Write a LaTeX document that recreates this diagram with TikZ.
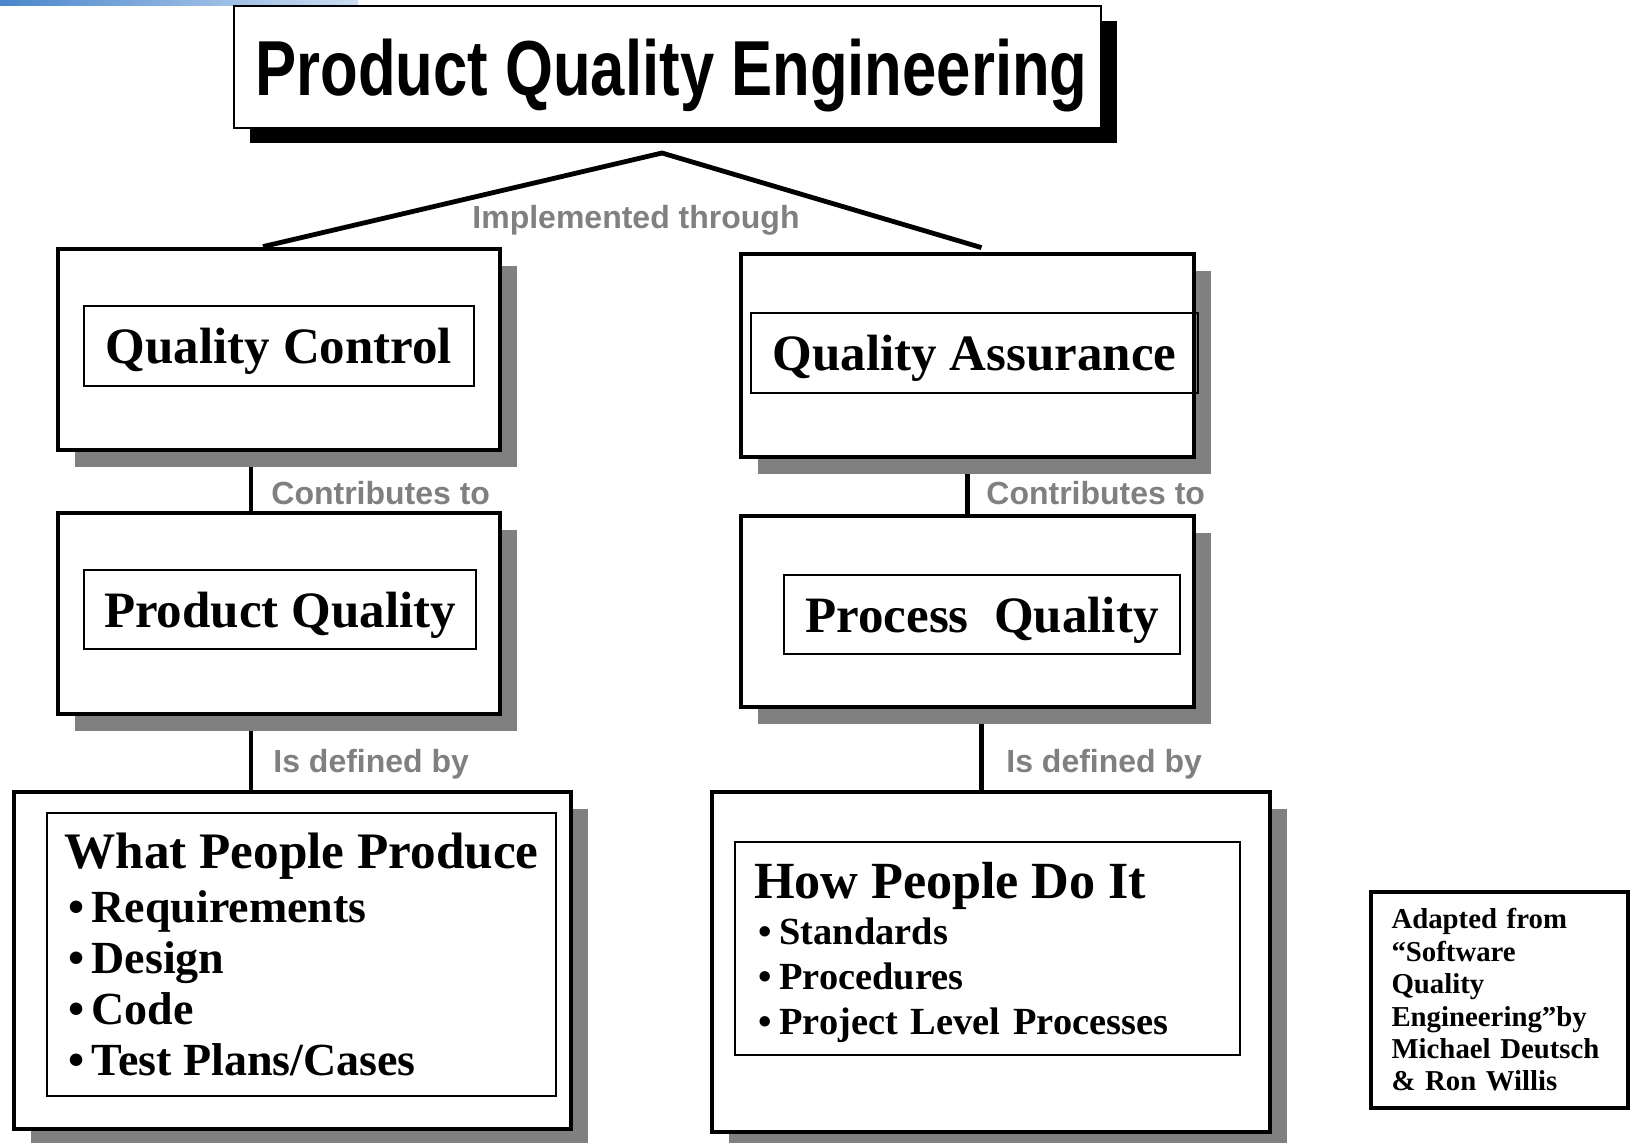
\documentclass[tikz,border=0pt]{standalone}
\usepackage{fontspec}
\setmainfont{Liberation Serif}
\newfontfamily\titlefont{Liberation Sans}[FakeStretch=0.79]
\newfontfamily\labelfont{Liberation Sans}
\usetikzlibrary{shadows,backgrounds}

\definecolor{shadowgray}{RGB}{128,128,128}
\definecolor{labelgray}{RGB}{128,128,128}
\definecolor{barblue}{RGB}{74,134,204}
\definecolor{barlight}{RGB}{205,222,242}

\newcommand{\itembullet}[1]{\leavevmode\kern2pt\textbullet\kern#1}

\tikzset{
    outerbox/.style={draw, line width=2.4pt, fill=white, inner sep=0pt,
        drop shadow={shadow xshift=8.5pt, shadow yshift=-8.5pt, fill=shadowgray, opacity=1}},
    innerbox/.style={draw, line width=1pt, inner sep=0pt, font=\bfseries\fontsize{25.5}{30}\selectfont},
    linklabel/.style={text=labelgray, inner sep=0pt, font=\labelfont\bfseries\fontsize{16}{19}\selectfont},
    link/.style={line width=2.4pt}
}

\begin{document}
\begin{tikzpicture}[x=0.5pt, y=-0.5pt]
    \useasboundingbox (0,0) rectangle (1634,1142);
    \shade[left color=barblue, right color=barlight] (0,0) rectangle (358,5);

    \node[draw, line width=1pt, fill=white, minimum width=433.5pt, minimum height=61pt, text depth=0pt,
        drop shadow={shadow xshift=8pt, shadow yshift=-7.5pt, fill=black, opacity=1},
        font=\titlefont\bfseries\fontsize{39}{45}\selectfont] (pqe) at (667.5,67) {\kern4pt Product Quality Engineering};

    \node[outerbox, minimum width=221pt, minimum height=100.5pt] (qc) at (279,349.5) {};
    \node[innerbox, minimum width=195pt, minimum height=40pt, text depth=0pt] (qcname) at (279,346) {Quality Control};

    \node[outerbox, minimum width=226.5pt, minimum height=101.5pt] (qa) at (967.5,355.5) {};
    \node[innerbox, minimum width=223.5pt, minimum height=40pt, text depth=0pt] (qaname) at (974.5,353) {Quality Assurance};

    \node[outerbox, minimum width=221pt, minimum height=100.5pt] (pq) at (279,613.5) {};
    \node[innerbox, minimum width=196pt, minimum height=39.5pt, text depth=0pt] (pqname) at (280,609.5) {Product Quality};

    \node[outerbox, minimum width=226.5pt, minimum height=95.5pt] (prq) at (967.5,611.5) {};
    \node[innerbox, minimum width=198pt, minimum height=39.5pt, text depth=0pt] (prqname) at (982,614.5) {Process\ \ Quality};

    \node[outerbox, minimum width=278.5pt, minimum height=168.5pt] (wpp) at (292.5,960.5) {};
    \node[innerbox, minimum width=254.5pt, minimum height=141.5pt, align=left,
        font=\bfseries\fontsize{23}{25.5}\selectfont] (wpplist) at (301.5,954.5)
        {{\fontsize{25.6}{30}\selectfont What People Produce}\\[1.5pt]
         \itembullet{3.5pt}Requirements\\
         \itembullet{3.5pt}Design\\
         \itembullet{3.5pt}Code\\
         \itembullet{3.5pt}Test Plans/Cases};

    \node[outerbox, minimum width=279pt, minimum height=170pt] (hpd) at (991,962) {};
    \node[innerbox, text width=233.5pt, inner xsep=9.5pt, minimum height=106.5pt, align=left,
        font=\bfseries\fontsize{19.2}{22.5}\selectfont] (hpdlist) at (987.5,948.5)
        {\rule{0pt}{22.5pt}{\fontsize{26.1}{30}\selectfont How People Do It}\\[0.5pt]
         \itembullet{4pt}Standards\\
         \itembullet{4pt}Procedures\\
         \itembullet{4pt}Project Level Processes};

    \node[draw, line width=2.4pt, text width=108pt, inner xsep=10.25pt, minimum height=108pt, align=left,
        font=\bfseries\fontsize{14.4}{16.2}\selectfont] (credit) at (1499.5,1000)
        {Adapted from\\
         “Software\\
         Quality\\
         Engineering”by\\
         Michael Deutsch\\
         \& Ron Willis};

    \coordinate (apex) at (662,153);
    \node[linklabel, anchor=base] (impl) at (636,228) {Implemented through};
    \node[linklabel, anchor=base west] (qccontrib) at (271,504) {Contributes to};
    \node[linklabel, anchor=base west] (qacontrib) at (986,504) {Contributes to};
    \node[linklabel, anchor=base west] (pqdef) at (273,772) {Is defined by};
    \node[linklabel, anchor=base west] (prqdef) at (1006,772) {Is defined by};

    \begin{pgfonlayer}{background}
        \draw[link] ([xshift=-8pt]qc.north) -- (apex) -- ([xshift=7pt, yshift=2pt]qa.north);
        \draw[link] ([xshift=-14pt]qc.south) -- ([xshift=-14pt]pq.north);
        \draw[link] ([xshift=-14pt]pq.south) -- ([xshift=-14pt]pq.south |- wpp.north);
        \draw[link] (qa.south) -- (qa.south |- prq.north);
        \draw[link] ([xshift=7pt]prq.south) -- ([xshift=7pt]prq.south |- hpd.north);
    \end{pgfonlayer}
\end{tikzpicture}
\end{document}
